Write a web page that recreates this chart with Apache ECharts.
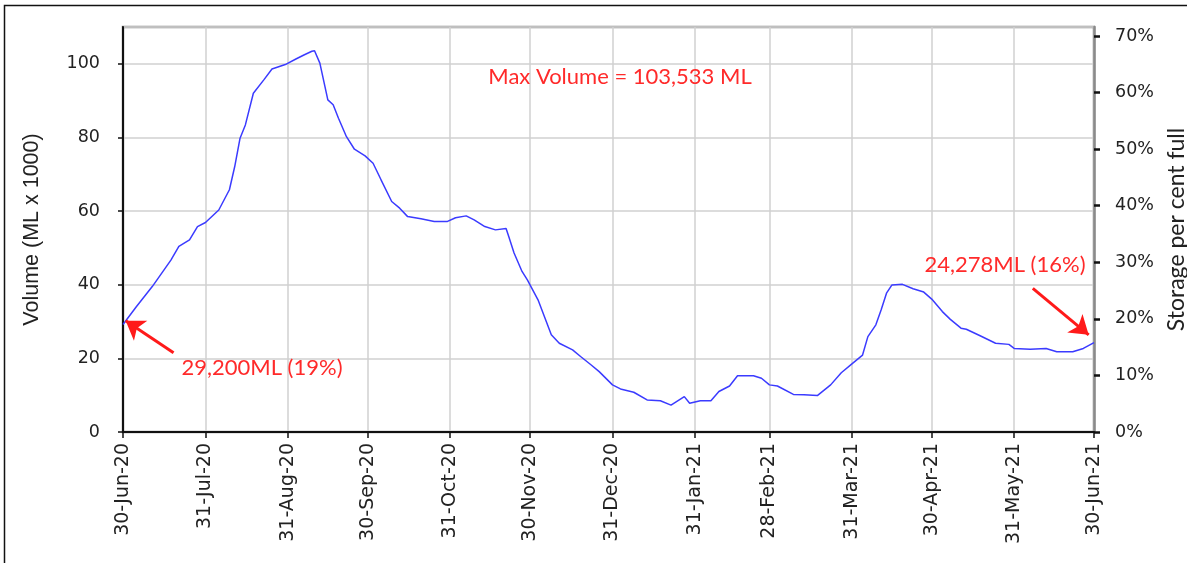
<!DOCTYPE html>
<html>
<head>
<meta charset="utf-8">
<script src="https://cdn.jsdelivr.net/npm/echarts@6/dist/echarts.min.js"></script>
<style>
  html, body { margin: 0; padding: 0; background: #ffffff; }
  #chart { width: 1187px; height: 563px; }
</style>
</head>
<body>
<div id="chart"></div>
<script>
// Storage volume, 30 Jun 2020 to 30 Jun 2021
const START_DATE = Date.UTC(2020, 5, 30);
const DAY_COUNT = 366;
const MONTHS = ['Jan','Feb','Mar','Apr','May','Jun','Jul','Aug','Sep','Oct','Nov','Dec'];

// days after 30-Jun-20 for each reading
const dayOffsets = [
  0, 5, 11, 18, 21, 25, 28, 31, 36, 40, 42, 44, 46, 49, 53, 56, 61, 65, 68, 71, 72,
  74, 77, 79, 81, 84, 87, 91, 94, 97, 101, 104, 107, 112, 117, 122, 125, 129, 132,
  136, 140, 144, 145, 147, 150, 152, 156, 161, 164, 169, 172, 176, 179, 184, 187,
  192, 197, 202, 206, 211, 213, 217, 221, 224, 228, 231, 237, 240, 243, 246, 252,
  256, 261, 266, 270, 274, 278, 280, 283, 285, 287, 289, 293, 297, 301, 304, 308,
  311, 315, 317, 322, 328, 333, 335, 341, 347, 351, 357, 361, 365
];
// volume, ML x 1000
const volume = [
  29.2, 34.0, 39.5, 46.7, 50.4, 52.2, 55.8, 56.9, 60.3, 65.8, 72.1, 79.8, 83.4, 92.0, 95.7, 98.6, 99.8, 101.3, 102.4, 103.4, 103.533,
  100.2, 90.2, 88.9, 85.2, 80.2, 76.8, 75.0, 73.0, 68.5, 62.6, 60.8, 58.5, 57.9, 57.2, 57.2, 58.2, 58.7, 57.6,
  55.8, 54.9, 55.3, 53.1, 48.6, 43.6, 41.3, 35.9, 26.4, 24.1, 22.3, 20.5, 18.2, 16.4, 12.8, 11.7,
  10.8, 8.7, 8.5, 7.3, 9.6, 7.8, 8.5, 8.5, 11.0, 12.5, 15.3, 15.3, 14.6, 12.8, 12.5, 10.2,
  10.1, 9.9, 12.8, 16.1, 18.5, 20.9, 25.9, 29.1, 33.2, 37.7, 39.9, 40.1, 38.9, 38.0, 36.1, 32.7,
  30.6, 28.2, 27.9, 26.2, 24.1, 23.8, 22.7, 22.5, 22.7, 21.8, 21.8, 22.7, 24.278
];

const leftTicks = [0, 20, 40, 60, 80, 100];
const rightTicks = [0, 10, 20, 30, 40, 50, 60, 70];

// annotation arrows: [fromDay, fromVolume, toDay, toVolume]
const startArrow = [19, 21.5, 1, 30.2];
const endArrow = [342, 39.0, 363, 26.4];

// daily category labels such as 30-Jun-20
const dates = [];
const monthEnd = [];
for (let i = 0; i < DAY_COUNT; i++) {
  const d = new Date(START_DATE + i * 86400000);
  const next = new Date(START_DATE + (i + 1) * 86400000);
  dates.push(d.getUTCDate() + '-' + MONTHS[d.getUTCMonth()] + '-' + String(d.getUTCFullYear()).slice(2));
  monthEnd.push(next.getUTCDate() === 1);
}
const isMonthEnd = (idx) => monthEnd[idx];

const seriesData = dayOffsets.map((d, i) => [d, volume[i]]);

const chart = echarts.init(document.getElementById('chart'));
const LABEL_FONT = '"DejaVu Sans", Verdana, sans-serif';
const TITLE_FONT = '"Liberation Sans", Arial, sans-serif';
const NOTE_FONT = 'Lato, "Open Sans", sans-serif';
const RED = '#ff2a2a';

chart.setOption({
  animation: false,
  backgroundColor: '#ffffff',
  grid: {
    left: 123, right: 93, top: 27, bottom: 131,
    outerBoundsMode: 'none', containLabel: false,
    show: true, borderColor: '#8a8a8a', borderWidth: 2.5
  },
  xAxis: {
    type: 'category',
    data: dates,
    boundaryGap: false,
    axisLine: { lineStyle: { color: '#111', width: 2 } },
    axisTick: { show: true, interval: isMonthEnd, length: 6, lineStyle: { color: '#111', width: 1.5 } },
    axisLabel: {
      interval: isMonthEnd, rotate: 90, margin: 11,
      color: '#222', fontFamily: LABEL_FONT, fontSize: 19
    },
    splitLine: { show: true, interval: isMonthEnd, lineStyle: { color: '#d0d0d0', width: 1.5 } }
  },
  yAxis: [
    {
      type: 'value', min: 0, max: 110, interval: 20,
      name: 'Volume (ML x 1000)', nameLocation: 'middle', nameGap: 80, nameRotate: 90,
      nameTextStyle: { color: '#222', fontFamily: TITLE_FONT, fontSize: 21.5 },
      axisLine: { show: true, lineStyle: { color: '#111', width: 2 } },
      axisTick: { show: true, length: 5, lineStyle: { color: '#111', width: 1.5 } },
      axisLabel: {
        showMaxLabel: false, margin: 23, color: '#222', fontFamily: LABEL_FONT, fontSize: 17.5,
        formatter: (v) => leftTicks.includes(v) ? String(v) : ''
      },
      splitLine: { show: true, lineStyle: { color: '#d0d0d0', width: 1.5 } }
    },
    {
      type: 'value', position: 'right', min: 0, max: 71.6, interval: 10,
      name: 'Storage per cent full', nameLocation: 'middle', nameGap: 69, nameRotate: 90,
      nameTextStyle: { color: '#222', fontFamily: NOTE_FONT, fontSize: 23 },
      axisLine: { show: true, lineStyle: { color: '#8a8a8a', width: 2.5 } },
      axisTick: { show: true, length: 6, lineStyle: { color: '#111', width: 2.5 } },
      axisLabel: {
        showMaxLabel: false, margin: 21, color: '#222', fontFamily: LABEL_FONT, fontSize: 17.5,
        formatter: (v) => rightTicks.includes(v) ? v + '%' : ''
      },
      splitLine: { show: false }
    }
  ],
  series: [
    {
      name: 'Volume',
      type: 'line',
      data: seriesData,
      showSymbol: false,
      symbol: 'none',
      lineStyle: { color: '#3b3bff', width: 1.5 },
      markLine: {
        silent: true,
        symbol: ['none', 'arrow'],
        symbolSize: 18,
        label: { show: false },
        lineStyle: { color: '#ff1a1a', width: 3, type: 'solid' },
        data: [
          [{ coord: [startArrow[0], startArrow[1]] }, { coord: [startArrow[2], startArrow[3]] }],
          [{ coord: [endArrow[0], endArrow[1]] }, { coord: [endArrow[2], endArrow[3]] }]
        ]
      }
    }
  ],
  graphic: [
    {
      type: 'rect', silent: true, z: 100,
      shape: { x: 4.5, y: 5.5, width: 1200, height: 600 },
      style: { fill: 'none', stroke: '#111', lineWidth: 1.5 }
    },
    {
      type: 'text', x: 620, y: 77, z: 100,
      style: {
        text: 'Max Volume = ' + volume[dayOffsets.indexOf(72)].toFixed(3).replace('.', ',') + ' ML',
        fill: RED, font: '22px ' + NOTE_FONT, align: 'center', verticalAlign: 'middle'
      }
    },
    {
      type: 'text', x: 262, y: 368, z: 100,
      style: {
        text: '29,200ML (19%)',
        fill: RED, font: '22px ' + NOTE_FONT, align: 'center', verticalAlign: 'middle'
      }
    },
    {
      type: 'text', x: 1005, y: 265, z: 100,
      style: {
        text: '24,278ML (16%)',
        fill: RED, font: '22px ' + NOTE_FONT, align: 'center', verticalAlign: 'middle'
      }
    }
  ]
});
</script>
</body>
</html>
